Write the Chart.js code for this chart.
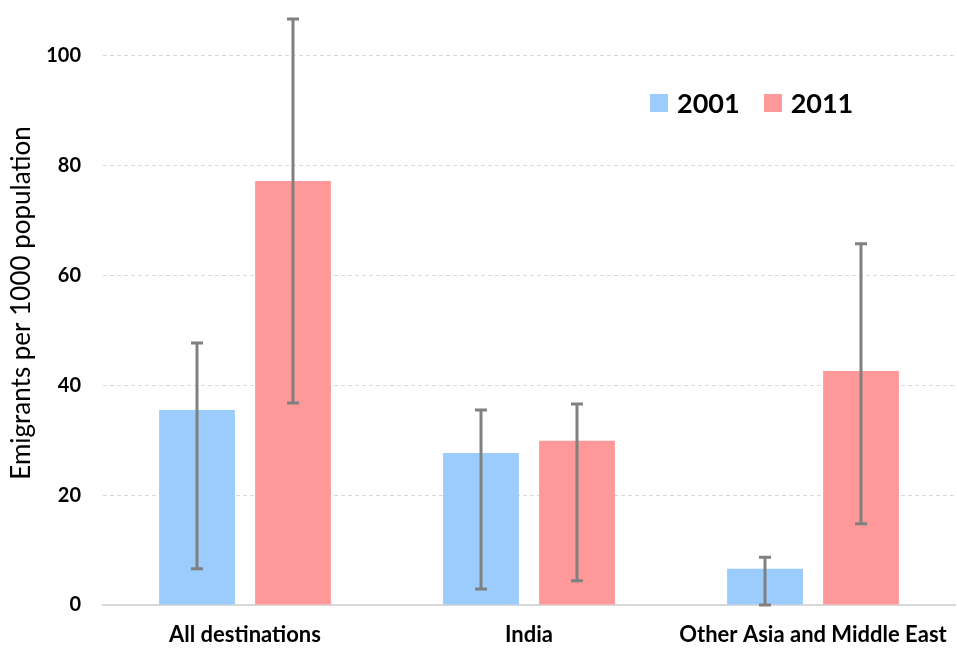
<!DOCTYPE html>
<html>
<head>
<meta charset="utf-8">
<script src="https://cdn.jsdelivr.net/npm/chart.js@4"></script>
<style>
  html, body { margin: 0; padding: 0; background: #fff; }
  #wrap { position: relative; width: 957px; height: 648px; }
  #legend { position: absolute; left: 650px; top: 86px; display: flex; gap: 24px;
    font-family: Lato, "Open Sans", sans-serif; font-weight: bold; font-size: 27px; color: #000; }
  #legend span.item { display: flex; align-items: center; }
  #legend span.box { display: inline-block; width: 18px; height: 18px; margin-right: 9px; }
</style>
</head>
<body>
<div id="wrap">
  <canvas id="chart" width="957" height="648"></canvas>
  <div id="legend"></div>
</div>
<script>
const categories = ["All destinations", "India", "Other Asia and Middle East"];
const years = ["2001", "2011"];
const values2001 = [35.5, 27.7, 6.6];
const values2011 = [77.2, 29.9, 42.6];
const low2001 = [6.6, 2.9, 0];
const high2001 = [47.7, 35.5, 8.7];
const low2011 = [36.8, 4.4, 14.8];
const high2011 = [106.7, 36.6, 65.8];
const yTicks = [0, 20, 40, 60, 80, 100];

const colors = ["#9BCCFD", "#FF9899"];

// draws error bars using the chart's own scales
const errorBars = {
    id: "errorBars",
    afterDatasetsDraw(chart) {
        const ctx = chart.ctx;
        const y = chart.scales.y;
        ctx.save();
        ctx.strokeStyle = "#808080";
        ctx.lineWidth = 3;
        chart.data.datasets.forEach((ds, i) => {
            const meta = chart.getDatasetMeta(i);
            meta.data.forEach((bar, j) => {
                const x = bar.x;
                const yTop = y.getPixelForValue(ds.errHigh[j]);
                const yBot = y.getPixelForValue(ds.errLow[j]);
                ctx.beginPath();
                ctx.moveTo(x, yTop);
                ctx.lineTo(x, yBot);
                ctx.moveTo(x - 6, yTop);
                ctx.lineTo(x + 6, yTop);
                ctx.moveTo(x - 6, yBot);
                ctx.lineTo(x + 6, yBot);
                ctx.stroke();
            });
        });
        ctx.restore();
    }
};

const ctx = document.getElementById("chart").getContext("2d");
const chart = new Chart(ctx, {
    type: "bar",
    data: {
        labels: categories,
        datasets: [
            { label: years[0], data: values2001, backgroundColor: colors[0], errLow: low2001, errHigh: high2001 },
            { label: years[1], data: values2011, backgroundColor: colors[1], errLow: low2011, errHigh: high2011 }
        ]
    },
    options: {
        responsive: false,
        animation: false,
        categoryPercentage: 0.676,
        barPercentage: 0.79,
        layout: { padding: { top: 1, right: 2, left: 0, bottom: 0 } },
        plugins: {
            legend: { display: false },
            tooltip: { enabled: false }
        },
        scales: {
            x: {
                grid: { display: false, drawTicks: false },
                border: { color: "#d9d9d9", width: 2 },
                afterFit(axis) {
                    axis.height = 43;
                    axis.paddingLeft = 0;
                    axis.paddingRight = 0;
                },
                ticks: {
                    color: "#000",
                    padding: 17,
                    font: { family: "Lato, 'Open Sans', sans-serif", weight: "bold", size: 22 }
                }
            },
            y: {
                min: 0,
                max: 110,
                afterBuildTicks(axis) {
                    axis.ticks = yTicks.map(v => ({ value: v }));
                },
                // the top tick is well below the top, so no label room is needed there
                afterFit(axis) {
                    axis.paddingTop = 0;
                    axis.paddingBottom = 0;
                    axis.width = 103;
                },
                border: { display: false, dash: [4, 3] },
                grid: {
                    color: ctx => ctx.tick && ctx.tick.value === 0 ? "rgba(0,0,0,0)" : "#d9d9d9",
                    drawTicks: false
                },
                ticks: {
                    color: "#000",
                    padding: 22,
                    font: { family: "Lato, 'Open Sans', sans-serif", weight: "bold", size: 20 }
                },
                title: {
                    display: true,
                    text: "Emigrants per 1000 population",
                    color: "#000",
                    padding: { top: 6, bottom: 0 },
                    font: { family: "Lato, 'Open Sans', sans-serif", size: 26 }
                }
            }
        }
    },
    plugins: [errorBars]
});

// HTML legend from the dataset labels
const legendEl = document.getElementById("legend");
chart.data.datasets.forEach(ds => {
    const item = document.createElement("span");
    item.className = "item";
    item.innerHTML = `<span class="box" style="background:${ds.backgroundColor}"></span>${ds.label}`;
    legendEl.appendChild(item);
});
</script>
</body>
</html>
